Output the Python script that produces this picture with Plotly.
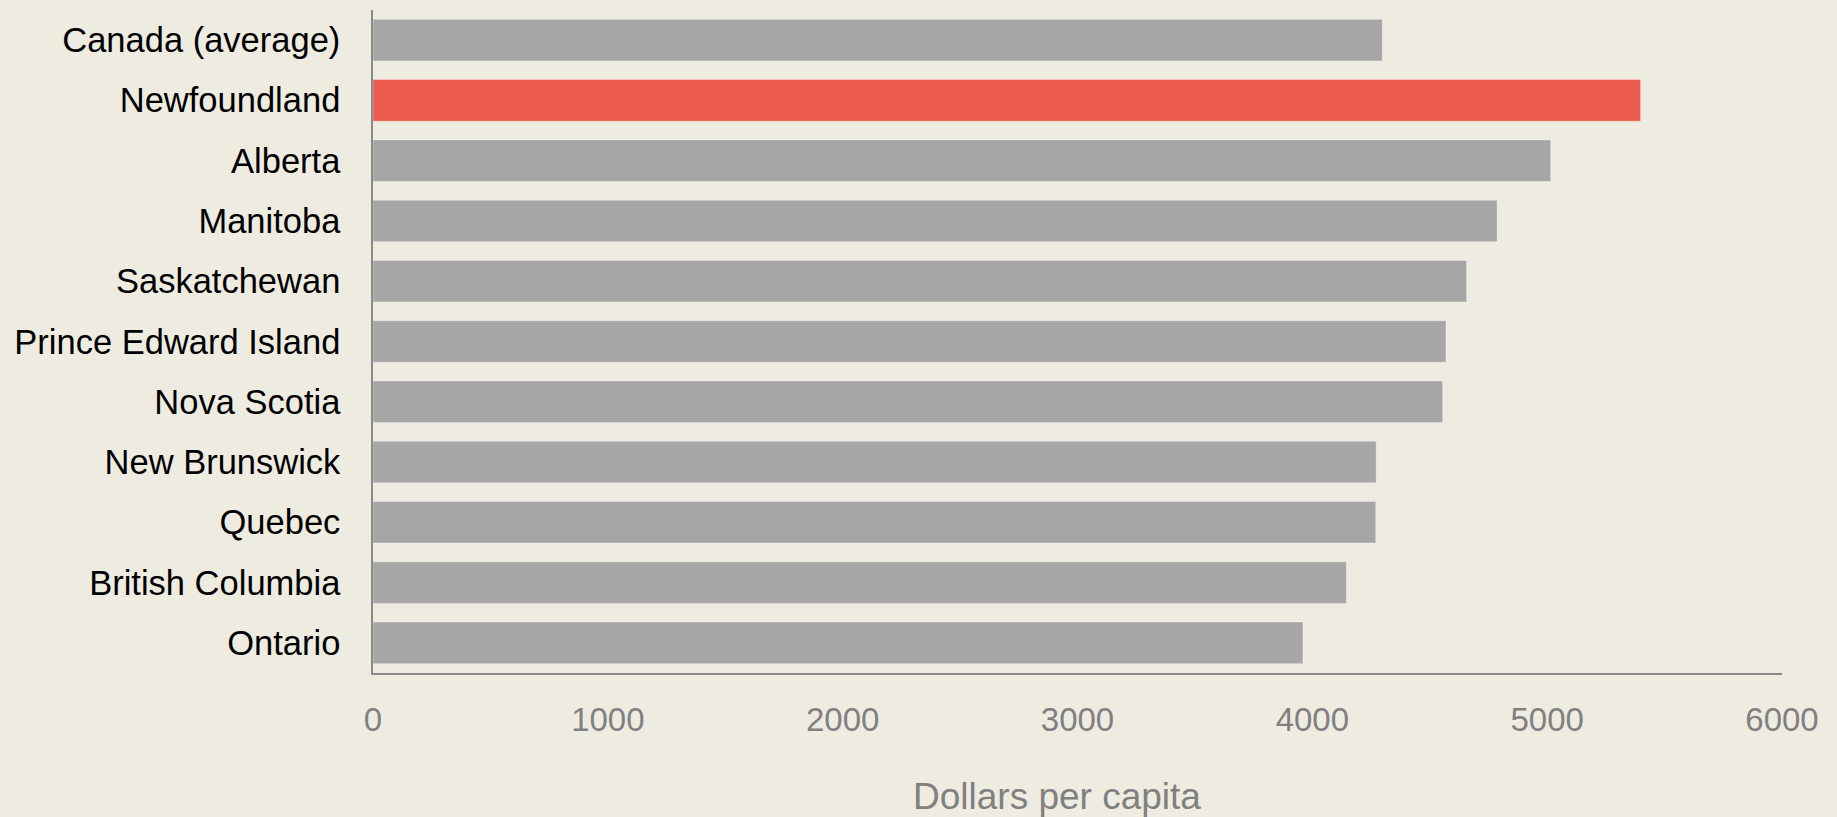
import plotly.graph_objects as go

# Per-capita spending by province, top to bottom
regions = [
    "Canada (average)", "Newfoundland", "Alberta", "Manitoba", "Saskatchewan",
    "Prince Edward Island", "Nova Scotia", "New Brunswick", "Quebec",
    "British Columbia", "Ontario",
]
dollars_per_capita = [4298, 5398, 5015, 4787, 4657, 4569, 4555, 4272, 4270, 4145, 3960]
highlight = "Newfoundland"

x_ticks = [0, 1000, 2000, 3000, 4000, 5000, 6000]

BG = "#EEECE1"
GREY_BAR = "#A6A6A6"
RED_BAR = "#EA5B4B"
AXIS = "#8A8A8A"
FONT = "Liberation Sans, Arial, sans-serif"

bar_colors = [RED_BAR if r == highlight else GREY_BAR for r in regions]

fig = go.Figure(
    go.Bar(
        x=dollars_per_capita,
        y=regions,
        orientation="h",
        marker=dict(color=bar_colors, line=dict(color="rgba(255,255,255,0.35)", width=1)),
        hoverinfo="x+y",
    )
)

fig.update_layout(
    width=1837,
    height=817,
    paper_bgcolor=BG,
    plot_bgcolor=BG,
    margin=dict(l=373, r=55, t=10, b=144, pad=0),
    bargap=0.31,
    showlegend=False,
    font=dict(family=FONT),
)

fig.update_xaxes(
    range=[0, 6000],
    tickvals=x_ticks,
    ticktext=[str(v) for v in x_ticks],
    showgrid=False,
    zeroline=False,
    showline=True,
    linecolor=AXIS,
    linewidth=1.5,
    ticks="",
    ticklabelstandoff=17,
    tickfont=dict(size=33, color="#808080", family=FONT),
)

fig.update_yaxes(
    autorange="reversed",
    showgrid=False,
    zeroline=False,
    showline=True,
    linecolor=AXIS,
    linewidth=1.5,
    ticks="",
    ticklabelstandoff=24,
    tickfont=dict(size=34.5, color="#000000", family=FONT),
)

fig.add_annotation(
    text="Dollars per capita",
    xref="paper", yref="paper",
    x=0.4857, y=-0.1865,
    xanchor="center", yanchor="middle",
    showarrow=False,
    font=dict(size=37, color="#808080", family=FONT),
)

fig.write_html("out.html")
